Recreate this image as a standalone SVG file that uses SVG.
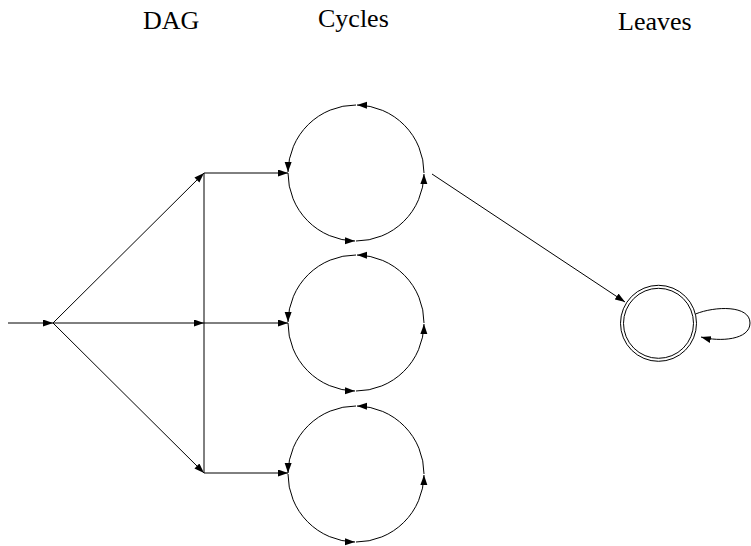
<svg xmlns="http://www.w3.org/2000/svg" width="751" height="546" viewBox="0 0 751 546">
<defs>
<marker id="ah" markerUnits="userSpaceOnUse" markerWidth="11" markerHeight="8" refX="10" refY="3.5" orient="auto">
<path d="M0,0 L10,3.5 L0,7 z" fill="#000"/>
</marker>
<style>
.e{fill:none;stroke:#000;stroke-width:1;marker-end:url(#ah)}
.l{fill:none;stroke:#000;stroke-width:1}
.c{fill:none;stroke:#000;stroke-width:1}
.t{font-family:"Liberation Serif","Times New Roman",serif;font-size:26px;fill:#000}
</style>
</defs>
<rect width="751" height="546" fill="#fff"/>
<g id="labels">
<text class="t" x="143" y="29">DAG</text>
<text class="t" x="318" y="27">Cycles</text>
<text class="t" x="618" y="30">Leaves</text>
</g>
<g id="connectors">
<path class="e" d="M8,323 L53,323"/>
<path class="e" d="M53,323 L204,173"/>
<path class="e" d="M53,323 L204,323"/>
<path class="e" d="M53,323 L204,473"/>
<path class="l" d="M204,173 L204,473"/>
<path class="e" d="M204,173 L288,173"/>
<path class="e" d="M204,323 L288,323"/>
<path class="e" d="M204,473 L288,473"/>
<path class="e" d="M432,174 L625,302"/>
<path class="e" d="M695.5,314 C715,306 750,305 750,323 C750,340 720,342 701,337"/>
</g>
<g id="cycle1">
<path class="e" d="M424,173 A68,68 0 0 0 357,105"/>
<path class="e" d="M356,105 A68,68 0 0 0 288,172"/>
<path class="e" d="M288,173 A68,68 0 0 0 355,241"/>
<path class="e" d="M356,241 A68,68 0 0 0 424,174"/>
</g>
<g id="cycle2">
<path class="e" d="M424,323 A68,68 0 0 0 357,255"/>
<path class="e" d="M356,255 A68,68 0 0 0 288,322"/>
<path class="e" d="M288,323 A68,68 0 0 0 355,391"/>
<path class="e" d="M356,391 A68,68 0 0 0 424,324"/>
</g>
<g id="cycle3">
<path class="e" d="M424,474 A68,68 0 0 0 357,406"/>
<path class="e" d="M356,406 A68,68 0 0 0 288,473"/>
<path class="e" d="M288,474 A68,68 0 0 0 355,542"/>
<path class="e" d="M356,542 A68,68 0 0 0 424,475"/>
</g>
<g id="leaf">
<circle class="c" cx="658.5" cy="323.3" r="38"/>
<circle class="c" cx="658.5" cy="323.3" r="35"/>
</g>
</svg>
